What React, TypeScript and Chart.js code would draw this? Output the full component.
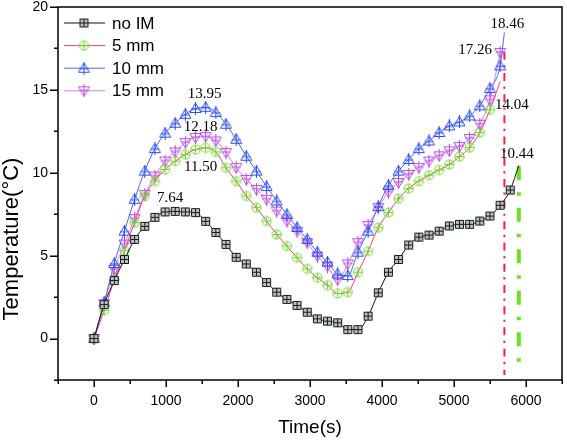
import React, { useEffect, useRef } from 'react';
import { Chart, registerables } from 'chart.js';
Chart.register(...registerables);

// ---------- data ----------
const timeS = [0, 141, 282, 423, 564, 705, 846, 987, 1128, 1269, 1410, 1551, 1692, 1833, 1974, 2115, 2256, 2397, 2538, 2679, 2820, 2961, 3102, 3243, 3384, 3525, 3666, 3807, 3948, 4089, 4230, 4371, 4512, 4653, 4794, 4935, 5076, 5217, 5358, 5499, 5640, 5781];

const seriesNames = ['no IM', '5 mm', '10 mm', '15 mm'];

const noIM = [0, 2.05, 3.5, 4.77, 5.98, 6.77, 7.31, 7.64, 7.67, 7.64, 7.6, 7.07, 6.4, 5.68, 4.9, 4.5, 4.0, 3.38, 2.8, 2.36, 2.0, 1.59, 1.19, 1.05, 0.95, 0.54, 0.54, 1.35, 2.76, 4.0, 4.77, 5.64, 6.12, 6.24, 6.48, 6.79, 6.89, 6.89, 7.09, 7.39, 8.04, 8.96];
const mm5 = [0, 1.7, 3.56, 5.3, 7.0, 8.6, 9.5, 10.2, 10.7, 11.1, 11.4, 11.5, 11.26, 10.3, 9.5, 8.6, 7.9, 7.09, 6.28, 5.58, 4.88, 4.2, 3.67, 3.22, 2.72, 2.8, 4.0, 5.27, 6.69, 7.6, 8.44, 9.05, 9.5, 9.85, 10.17, 10.5, 10.98, 11.52, 12.43, 13.8];
const mm10 = [0, 2.19, 4.53, 6.48, 8.4, 10.1, 11.46, 12.39, 12.99, 13.53, 13.88, 13.95, 13.64, 12.93, 12.02, 11.0, 10.1, 9.17, 8.3, 7.49, 6.7, 5.98, 5.21, 4.61, 3.9, 3.8, 5.21, 6.48, 7.96, 9.24, 10.1, 10.8, 11.46, 11.92, 12.43, 12.83, 13.07, 13.43, 14.04, 15.09, 16.45];
const mm15 = [0, 2.1, 4.17, 5.7, 7.23, 8.7, 9.8, 10.71, 11.26, 11.82, 12.13, 12.18, 11.92, 11.22, 10.31, 9.6, 9.0, 8.4, 7.69, 7.09, 6.48, 5.78, 4.97, 4.37, 3.55, 4.5, 5.78, 6.83, 7.9, 8.84, 9.41, 9.9, 10.31, 10.71, 11.02, 11.32, 11.58, 12.07, 12.93, 14.4, 17.26];

// final (line-only) end points of each series
const endTimes = [5900, 5640, 5700, null];
const endTemps = [10.44, 15.5, 18.46, null];

// vertical reference lines
const refLineTimes = [5700, 5900];
const refLineTops = [17.3, 10.4];
const refLineBottoms = [-2.2, -1.7];

// value labels: [series index, point index (-1 = end point), text]
const valueLabelSeries = [2, 3, 1, 0, 2, 3, 1, 0];
const valueLabelPoints = [11, 11, 11, 8, -1, 40, 39, -1];
const valueLabelTexts = ['13.95', '12.18', '11.50', '7.64', '18.46', '17.26', '14.04', '10.44'];

const xTickMin = -500;
const xTickMax = 6500;
const yTickMin = -2.5;
const yTickMax = 20;

// ---------- styles ----------
const lineColors = ['#111111', '#ff3b73', '#4a66f0', '#e27aef'];
const markerStroke = ['#1a1a1a', '#62dc1e', '#2f4ff0', '#bb4fe6'];
const markerKind = ['square', 'circle', 'up', 'down'];
const markerFill: (string | null)[] = ['#b9c2c2', null, null, null];
const labelOffsets = [[-1, -13], [-5, -10], [-5, 19], [-5, -13], [3, -8], [-25, -2], [22, -5], [-2, -11]];

function makeMarker(kind: string, stroke: string, fill: string | null): HTMLCanvasElement {
  const c = document.createElement('canvas');
  const s = 13;
  c.width = s;
  c.height = s;
  const g = c.getContext('2d')!;
  const m = s / 2;
  g.lineWidth = 1;
  g.strokeStyle = stroke;
  g.beginPath();
  if (kind === 'square') {
    g.rect(2.5, 2.5, 8, 8);
  } else if (kind === 'circle') {
    g.arc(m, m, 4.6, 0, Math.PI * 2);
  } else if (kind === 'up') {
    g.moveTo(m, 1);
    g.lineTo(12, 10.5);
    g.lineTo(1, 10.5);
    g.closePath();
  } else {
    g.moveTo(1, 2.5);
    g.lineTo(12, 2.5);
    g.lineTo(m, 12);
    g.closePath();
  }
  if (fill) {
    g.fillStyle = fill;
    g.fill();
  }
  g.stroke();
  g.beginPath();
  if (kind === 'square' || kind === 'circle') {
    g.moveTo(m, 2.5);
    g.lineTo(m, 10.5);
    g.moveTo(2.5, m);
    g.lineTo(10.5, m);
  } else if (kind === 'up') {
    g.moveTo(m, 0);
    g.lineTo(m, 13);
    g.moveTo(2, 7);
    g.lineTo(11, 7);
  } else {
    g.moveTo(m, 0);
    g.lineTo(m, 13);
    g.moveTo(2, 6);
    g.lineTo(11, 6);
  }
  g.stroke();
  return c;
}

export default function App() {
  const ref = useRef<HTMLCanvasElement | null>(null);

  useEffect(() => {
    if (!ref.current) return;
    const markers = markerKind.map((k, i) => makeMarker(k, markerStroke[i], markerFill[i]));
    const allSeries = [noIM, mm5, mm10, mm15];

    const datasets: any[] = allSeries.map((vals, si) => {
      const pts: any[] = vals.map((v, i) => ({ x: timeS[i], y: v }));
      const radii = vals.map(() => 4);
      if (endTimes[si] !== null) {
        pts.push({ x: endTimes[si], y: endTemps[si] });
        radii.push(0);
      }
      return {
        label: seriesNames[si],
        data: pts,
        borderColor: lineColors[si],
        backgroundColor: lineColors[si],
        borderWidth: 1,
        pointStyle: markers[si],
        pointRadius: radii,
        pointHoverRadius: radii,
        cubicInterpolationMode: 'monotone',
        order: [0, 2, 1, 3][si],
      };
    });

    datasets.push({
      label: 'ref1',
      data: [{ x: refLineTimes[0], y: refLineTops[0] }, { x: refLineTimes[0], y: refLineBottoms[0] }],
      borderColor: '#ff1f3a',
      borderWidth: 2,
      borderDash: [8, 5.5, 2.2, 5.5],
      pointRadius: 0,
      order: 10,
    });
    datasets.push({
      label: 'ref2',
      data: [{ x: refLineTimes[1], y: refLineTops[1] }, { x: refLineTimes[1], y: refLineBottoms[1] }],
      borderColor: '#6ee01c',
      borderWidth: 4,
      borderDash: [14, 12, 3.5, 12],
      pointRadius: 0,
      order: 11,
    });

    const decor = {
      id: 'decor',
      afterDraw(chart: any) {
        const { ctx, chartArea: a, scales } = chart;
        const xs = scales.x;
        const ys = scales.y;
        ctx.save();
        // frame
        ctx.strokeStyle = '#000';
        ctx.lineWidth = 1.5;
        ctx.strokeRect(a.left, a.top, a.right - a.left, a.bottom - a.top);
        // ticks
        ctx.lineWidth = 1.5;
        ctx.beginPath();
        xs.ticks.forEach((t: any) => {
          const px = Math.round(xs.getPixelForValue(t.value)) + 0.25;
          const len = t.value % 1000 === 0 ? 7 : 4;
          ctx.moveTo(px, a.bottom);
          ctx.lineTo(px, a.bottom + len);
        });
        ys.ticks.forEach((t: any) => {
          const py = Math.round(ys.getPixelForValue(t.value)) + 0.25;
          const len = t.value % 5 === 0 ? 8 : 4;
          ctx.moveTo(a.left, py);
          ctx.lineTo(a.left - len, py);
        });
        ctx.stroke();

        // axis titles
        ctx.fillStyle = '#000';
        ctx.font = '19px "Liberation Sans", Arial, sans-serif';
        ctx.textAlign = 'center';
        ctx.textBaseline = 'middle';
        ctx.fillText('Time(s)', (a.left + a.right) / 2, 428);
        ctx.save();
        ctx.translate(12, 239);
        ctx.rotate(-Math.PI / 2);
        ctx.font = '22px "Liberation Sans", Arial, sans-serif';
        ctx.fillText('Temperature(\u00B0C)', 0, 0);
        ctx.restore();

        // legend
        ctx.textAlign = 'left';
        ctx.font = '17px "Liberation Sans", Arial, sans-serif';
        seriesNames.forEach((name, i) => {
          const y = 23 + i * 22.6;
          ctx.strokeStyle = lineColors[i];
          ctx.lineWidth = 1;
          ctx.beginPath();
          ctx.moveTo(64, y);
          ctx.lineTo(105, y);
          ctx.stroke();
          ctx.drawImage(markers[i], 84 - 6.5, y - 6.5);
          ctx.fillStyle = '#000';
          ctx.fillText(name, 112, y + 1);
        });

        // value labels
        ctx.font = '15px "Liberation Serif", "Times New Roman", serif';
        ctx.textAlign = 'center';
        valueLabelTexts.forEach((txt, k) => {
          const si = valueLabelSeries[k];
          const meta = chart.getDatasetMeta(si);
          const pi = valueLabelPoints[k] < 0 ? meta.data.length - 1 : valueLabelPoints[k];
          const el = meta.data[pi];
          ctx.fillText(txt, el.x + labelOffsets[k][0], el.y + labelOffsets[k][1]);
        });
        ctx.restore();
      },
    };

    const chart = new Chart(ref.current, {
      type: 'line',
      data: { datasets },
      options: {
        animation: false,
        responsive: false,
        devicePixelRatio: 1,
        layout: { padding: { top: 7, right: 4, left: 0, bottom: 0 } },
        plugins: { legend: { display: false }, tooltip: { enabled: false } },
        scales: {
          x: {
            type: 'linear',
            min: xTickMin,
            max: xTickMax,
            grid: { display: false, drawTicks: false },
            border: { display: false },
            ticks: {
              stepSize: 500,
              padding: 13,
              color: '#000',
              font: { family: '"Liberation Sans", Arial, sans-serif', size: 14 },
              maxRotation: 0,
              autoSkip: false,
              callback: (v: any) => (Number(v) % 1000 === 0 ? String(v) : ''),
            },
            afterFit: (s: any) => {
              s.height = 61;
              s.paddingLeft = 0;
              s.paddingRight = 0;
            },
          },
          y: {
            type: 'linear',
            min: yTickMin,
            max: yTickMax,
            grid: { display: false, drawTicks: false },
            border: { display: false },
            ticks: {
              stepSize: 2.5,
              padding: 10,
              color: '#000',
              font: { family: '"Liberation Sans", Arial, sans-serif', size: 14 },
              autoSkip: false,
              callback: (v: any) => (Number(v) % 5 === 0 ? String(v) : ''),
            },
            afterFit: (s: any) => {
              s.width = 58;
              s.paddingTop = 0;
              s.paddingBottom = 0;
            },
          },
        },
      },
      plugins: [decor],
    } as any);
    return () => chart.destroy();
  }, []);

  return (
    <div style={{ position: 'fixed', left: 0, top: 0, width: 567, height: 441, background: '#fff' }}>
      <canvas ref={ref} width={567} height={441} style={{ width: 567, height: 441, display: 'block' }} />
    </div>
  );
}
